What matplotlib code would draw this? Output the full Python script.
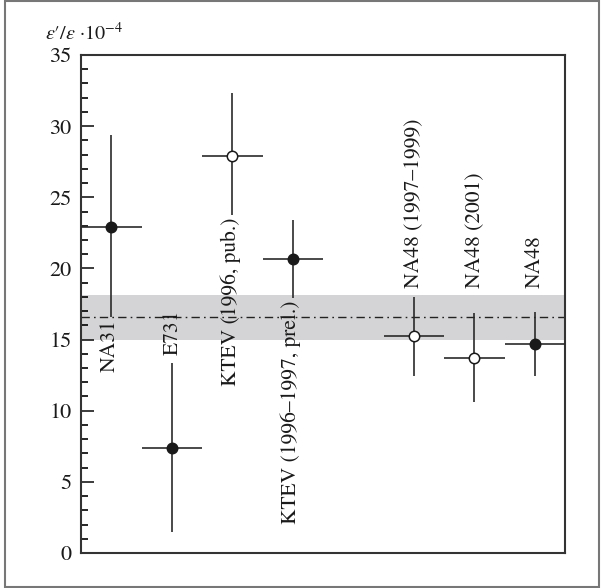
import numpy as np
import matplotlib.pyplot as plt
from matplotlib.patches import Rectangle

plt.rcParams['font.family'] = ['STIXGeneral', 'DejaVu Serif']
plt.rcParams['mathtext.fontset'] = 'stix'

# experimentos e valores de eps'/eps (x 10^-4)
labels = ['NA31', 'E731', 'KTEV (1996, pub.)', 'KTEV (1996\u20131997, prel.)',
          'NA48 (1997\u20131999)', 'NA48 (2001)', 'NA48']
pos = [0.5, 1.5, 2.5, 3.5, 5.5, 6.5, 7.5]
valor = [22.9, 7.4, 27.9, 20.65, 15.25, 13.7, 14.7]
err_sup = [6.5, 5.95, 4.4, 2.75, 2.75, 3.2, 2.25]
err_inf = [6.3, 5.95, 4.15, 2.75, 2.8, 3.1, 2.25]
aberto = [False, False, True, False, True, True, False]
lado_label = ['abaixo', 'acima', 'abaixo', 'abaixo', 'fixo', 'fixo', 'fixo']

# media mundial e faixa
media = 16.6
faixa = (15.0, 18.15)

fig = plt.figure(figsize=(6.01, 5.88), dpi=100)
ax = fig.add_axes([0.1348, 0.0595, 0.9401 - 0.1348, 0.9065 - 0.0595])

ax.axhspan(faixa[0], faixa[1], color='#d4d4d6', lw=0, zorder=0)
ax.axhline(media, color='#222222', lw=1.0, ls=(0, (6, 3, 1.2, 3)), zorder=1)

fs = 15.5
for i in range(len(pos)):
    ax.errorbar(pos[i], valor[i], xerr=0.5,
                yerr=[[err_inf[i]], [err_sup[i]]],
                fmt='o', ms=7.5, color='#1a1a1a', ecolor='#2a2a2a',
                elinewidth=1.2, capsize=0,
                mfc='white' if aberto[i] else '#1a1a1a',
                mec='#1a1a1a', mew=1.1, zorder=3)
    if lado_label[i] == 'abaixo':
        ax.text(pos[i] - 0.03, valor[i] - err_inf[i] - 0.15, labels[i],
                rotation=90, ha='center', va='top', fontsize=fs,
                color='#1a1a1a')
    elif lado_label[i] == 'acima':
        ax.text(pos[i] + 0.02, valor[i] + err_sup[i] + 0.55, labels[i],
                rotation=90, ha='center', va='bottom', fontsize=fs,
                color='#1a1a1a')
    else:
        ax.text(pos[i], 18.6, labels[i],
                rotation=90, ha='center', va='bottom', fontsize=fs,
                color='#1a1a1a')

ax.set_xlim(0, 8)
ax.set_ylim(0, 35)
ax.set_xticks([])
ax.set_yticks(np.arange(0, 36, 5))
ax.set_yticks(np.arange(0, 36, 1), minor=True)
ax.tick_params(axis='y', which='major', direction='in', length=9, width=1.2,
               labelsize=16, pad=7, colors='#1a1a1a')
ax.tick_params(axis='y', which='minor', direction='in', length=5, width=1.2)
for s in ax.spines.values():
    s.set_linewidth(1.5)
    s.set_color('#333333')

fig.text(45 / 601, 1 - 33 / 588,
         "$\\varepsilon$\u2032/$\\varepsilon$ \u00b710$^{\u22124}$",
         fontsize=14.5, ha='left', va='center', color='#1a1a1a')

# moldura externa
fig.patches.append(Rectangle((5 / 601, 1 / 588), 594 / 601, 586 / 588,
                             transform=fig.transFigure, fill=False,
                             ec='#777777', lw=1.5))

fig.savefig('out.png', dpi=100)
